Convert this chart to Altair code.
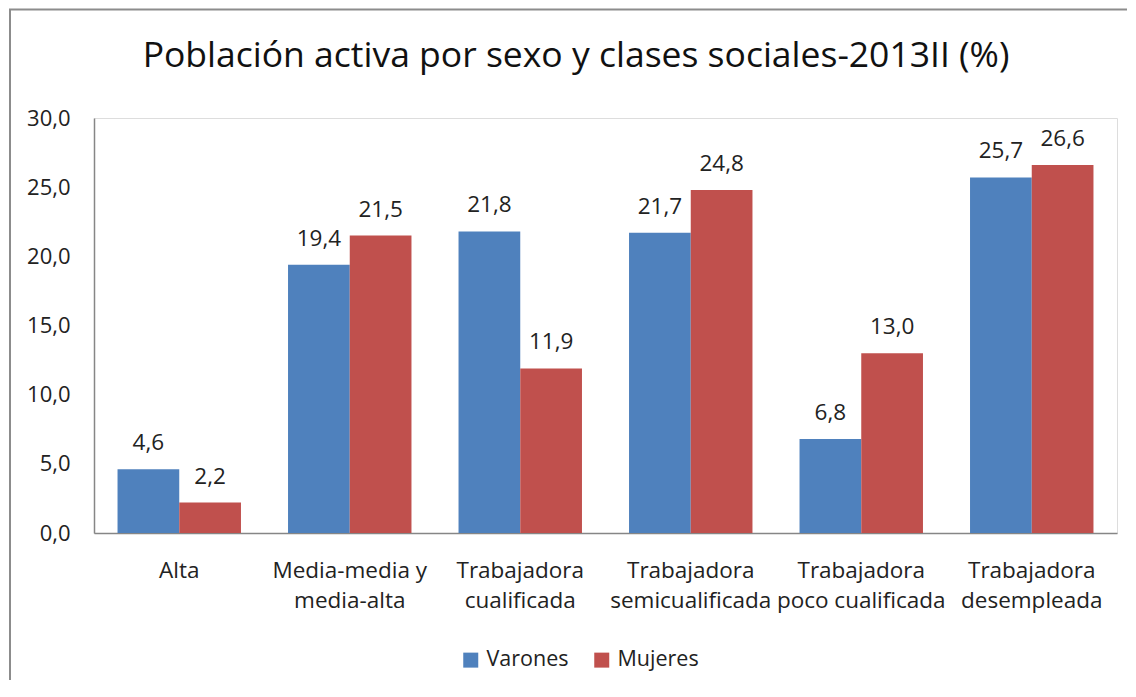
import altair as alt
import pandas as pd

categorias = ["Alta", "Media-media y\nmedia-alta", "Trabajadora\ncualificada",
              "Trabajadora\nsemicualificada", "Trabajadora\npoco cualificada",
              "Trabajadora\ndesempleada"]
series = ["Varones", "Mujeres"]
varones = [4.6, 19.4, 21.8, 21.7, 6.8, 25.7]
mujeres = [2.2, 21.5, 11.9, 24.8, 13.0, 26.6]
y_ticks = [0, 5, 10, 15, 20, 25, 30]
titulo = "Población activa por sexo y clases sociales-2013II (%)"
colores = ["#4F81BD", "#C0504D"]

rows = []
for c, v, m in zip(categorias, varones, mujeres):
    rows.append({"clase": c, "sexo": "Varones", "valor": v})
    rows.append({"clase": c, "sexo": "Mujeres", "valor": m})
df = pd.DataFrame(rows)

FONT = "Open Sans"
W, H = 1023, 415

base = alt.Chart(df).encode(
    x=alt.X("clase:N", sort=categorias,
            scale=alt.Scale(paddingInner=0.276, paddingOuter=0.138),
            axis=alt.Axis(title=None, labelAngle=0, ticks=False,
                          labelExpr="split(datum.label, '\\n')",
                          labelLineHeight=30, labelPadding=26,
                          labelFontSize=22.5, labelFont=FONT, labelColor="#222",
                          domainColor="#868686", domainWidth=1.5)),
    xOffset=alt.XOffset("sexo:N", sort=series, scale=alt.Scale(paddingInner=0, paddingOuter=0)),
    y=alt.Y("valor:Q", scale=alt.Scale(domain=[0, 30], nice=False),
            axis=alt.Axis(title=None, values=y_ticks, grid=False, ticks=False,
                          labelExpr="replace(format(datum.value, '.1f'), '.', ',')",
                          labelPadding=24, labelFontSize=22, labelFont=FONT,
                          labelColor="#222", domainColor="#868686", domainWidth=1.5)),
)

bars = base.mark_bar().encode(
    color=alt.Color("sexo:N", sort=series,
                    scale=alt.Scale(domain=series, range=colores),
                    legend=alt.Legend(title=None, orient="none", direction="horizontal",
                                      legendX=366, legendY=531,
                                      symbolType="square", symbolSize=225,
                                      symbolStrokeWidth=0, labelFontSize=21.5,
                                      labelFont=FONT, labelColor="#222",
                                      labelOffset=5, columnPadding=22))
)

labels = base.transform_calculate(
    etiqueta="replace(format(datum.valor, '.1f'), '.', ',')"
).mark_text(dy=-19, baseline="alphabetic", fontSize=22.5, font=FONT, color="#222").encode(
    text="etiqueta:N"
)

title_df = pd.DataFrame({"t": [titulo]})
title = alt.Chart(title_df).mark_text(
    fontSize=35.5, font=FONT, color="#111", baseline="alphabetic", align="center"
).encode(x=alt.value(482), y=alt.value(-51), text="t:N")

frame_df = pd.DataFrame({"k": [0]})
left_line = alt.Chart(frame_df).mark_rule(color="#8c8c8c", strokeWidth=2).encode(
    x=alt.value(-84), y=alt.value(-108.5), y2=alt.value(562))
top_line = alt.Chart(frame_df).mark_rule(color="#8c8c8c", strokeWidth=2).encode(
    x=alt.value(-85), x2=alt.value(1033), y=alt.value(-108.5))

chart = alt.layer(bars, labels, title, left_line, top_line).properties(
    width=W, height=H, padding=0
).configure_view(stroke=None).configure(background="white")

chart.save("out.html", embed_options={"renderer": "svg", "actions": False})
